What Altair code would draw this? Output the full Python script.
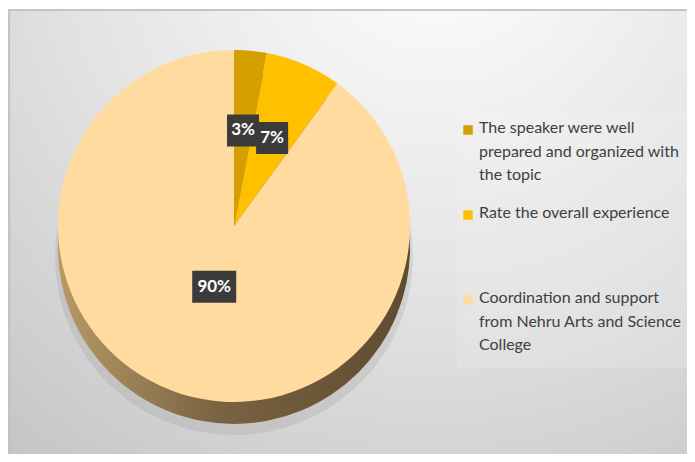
import altair as alt
import pandas as pd

# ---- data ----
categories = [
    "The speaker were well prepared and organized with the topic",
    "Rate the overall experience",
    "Coordination and support from Nehru Arts and Science College",
]
legend_text = [
    "The speaker were well\nprepared and organized with\nthe topic",
    "Rate the overall experience",
    "Coordination and support\nfrom Nehru Arts and Science\nCollege",
]
values = [3, 7, 90]
labels = ["3%", "7%", "90%"]
slice_colors = ["#D3A000", "#FFC000", "#FFDB9F"]

df = pd.DataFrame({
    "category": categories,
    "legend": legend_text,
    "value": values,
    "label": labels,
    "order": [0, 1, 2],
})
dummy = pd.DataFrame({"k": [0]})

W, H = 679, 446
CX, CY = 224, 218
R = 176
FONT = "Lato"

color = alt.Color("category:N", scale=alt.Scale(domain=categories, range=slice_colors), legend=None)

# background panel with a soft radial gradient
bg = alt.Chart(dummy).mark_rect(
    color=alt.Gradient(
        gradient="radial", x1=0.62, y1=0.05, x2=0.62, y2=0.05, r1=0, r2=1.0,
        stops=[alt.GradientStop(offset=0, color="#ffffff"),
               alt.GradientStop(offset=0.55, color="#e2e2e2"),
               alt.GradientStop(offset=1, color="#c4c4c4")]),
    stroke="#b5b5b5", strokeWidth=1.5,
).encode(x=alt.value(-1), x2=alt.value(W + 8), y=alt.value(2), y2=alt.value(H + 8))

legend_panel = alt.Chart(dummy).mark_rect(color="#f4f4f4", opacity=0.2).encode(
    x=alt.value(447), x2=alt.value(W), y=alt.value(104), y2=alt.value(360))

shadow = alt.Chart(dummy).mark_arc(theta=0, theta2=6.2832, radius=R + 3, color="#8a8a8a", opacity=0.2).encode(
    x=alt.value(CX), y=alt.value(CY + 30))

side = alt.Chart(dummy).mark_arc(
    theta=0, theta2=6.2832, radius=R,
    color=alt.Gradient(
        gradient="linear", x1=0, y1=0, x2=1, y2=0,
        stops=[alt.GradientStop(offset=0, color="#b89a66"),
               alt.GradientStop(offset=0.45, color="#7a6342"),
               alt.GradientStop(offset=1, color="#5e4b31")]),
).encode(x=alt.value(CX), y=alt.value(CY + 22))

pie = alt.Chart(df).mark_arc(radius=R).encode(
    theta=alt.Theta("value:Q", stack=True),
    color=color,
    order=alt.Order("order:Q"),
    x=alt.value(CX), y=alt.value(CY),
)

# label boxes positioned from the stacked angles
lab = alt.Chart(df).transform_window(
    cum="sum(value)", sort=[alt.SortField("order")], frame=[None, 0]
).transform_joinaggregate(total="sum(value)").transform_calculate(
    mid="(datum.cum - datum.value/2) / datum.total * 2 * PI",
    r="datum.order == 2 ? 64 : 96",
).transform_calculate(
    bx=f"{CX} + datum.r * sin(datum.mid)",
    by=f"{CY} - datum.r * cos(datum.mid)",
    hw="length(datum.label) * 6 + 4",
).transform_calculate(
    bx1="datum.bx - datum.hw", bx2="datum.bx + datum.hw",
    by1="datum.by - 16", by2="datum.by + 16",
)

boxes = lab.mark_rect(color="#3b3b3b").encode(
    x=alt.X("bx1:Q", scale=None, axis=None), x2="bx2:Q",
    y=alt.Y("by1:Q", scale=None, axis=None), y2="by2:Q",
)
texts = lab.mark_text(color="white", font=FONT, fontWeight="bold", fontSize=17, baseline="middle", align="center").encode(
    x=alt.X("bx:Q", scale=None, axis=None),
    y=alt.Y("by:Q", scale=None, axis=None),
    text="label:N",
)

legend_y = alt.Y("order:O", scale=alt.Scale(type="point", range=[122, 292], padding=0), axis=None)
leg_sq = alt.Chart(df).mark_square(size=90, opacity=1).encode(
    x=alt.value(458), y=legend_y, color=color)
leg_tx = alt.Chart(df).mark_text(
    align="left", baseline="top", dy=-10, font=FONT, fontSize=16, color="#404040",
    lineBreak="\n", lineHeight=23.5,
).encode(x=alt.value(469), y=legend_y, text="legend:N")

chart = alt.layer(bg, legend_panel, shadow, side, pie, boxes, texts, leg_sq, leg_tx).properties(
    width=W, height=H, padding=0,
    autosize=alt.AutoSizeParams(type="fit", contains="padding"),
    background="white",
).configure_view(stroke=None)

chart.save("out.html", embed_options={"renderer": "svg", "actions": False})
